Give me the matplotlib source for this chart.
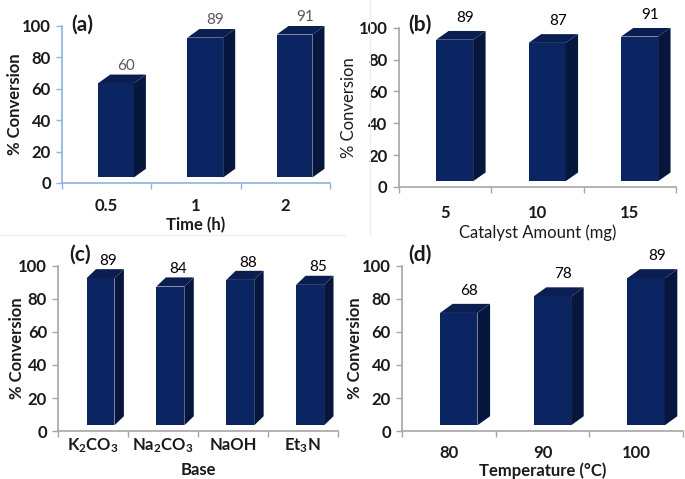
import matplotlib
matplotlib.use("Agg")
import matplotlib.pyplot as plt
from matplotlib.lines import Line2D

plt.rcParams['font.family'] = ['Lato', 'DejaVu Sans']
plt.rcParams['mathtext.fontset'] = 'custom'
plt.rcParams['mathtext.rm'] = 'Lato:bold'
plt.rcParams['mathtext.default'] = 'rm'

# data
time_cats = ["0.5", "1", "2"]
time_vals = [60, 89, 91]
cat_cats = ["5", "10", "15"]
cat_vals = [89, 87, 91]
base_cats = ["K$_2$CO$_3$", "Na$_2$CO$_3$", "NaOH", "Et$_3$N"]
base_vals = [89, 84, 88, 85]
temp_cats = ["80", "90", "100"]
temp_vals = [68, 78, 89]

FRONT = '#0b2462'
TOP = '#0a1e52'
SIDE = '#06163d'
TXT = '#1a1a1a'
FS = 12


def panel(ax, cats, vals, xlabel, spine_col, lab_col, lab_dy, lbl_bold,
          xpad, ylab_x, xlab_y):
    off = 3.5      # front face lifted by depth
    w = 0.40
    dx = 0.135
    dy = 5.5
    for i, v in enumerate(vals):
        x0 = i - 0.095
        x1 = x0 + w
        b = off
        t = v + off
        ax.fill([x0, x1, x1, x0], [b, b, t, t], color=FRONT, lw=0)
        ax.fill([x1, x1 + dx, x1 + dx, x1], [b, b + dy, t + dy, t], color=SIDE, lw=0)
        ax.fill([x0, x1, x1 + dx, x0 + dx], [t, t, t + dy, t + dy], color=TOP, lw=0)
        ax.text(i + 0.22, v + lab_dy, str(v), ha='center', va='center',
                fontsize=11, color=lab_col, clip_on=False)
    n = len(cats)
    ax.set_xlim(-0.5, n - 0.5)
    ax.set_ylim(0, 100)
    ax.set_yticks([0, 20, 40, 60, 80, 100])
    ax.set_xticks(range(n))
    ax.set_xticklabels(cats)
    ax.set_xticks([k - 0.5 for k in range(n + 1)], minor=True)
    for s in ['top', 'right']:
        ax.spines[s].set_visible(False)
    for s in ['left', 'bottom']:
        ax.spines[s].set_color(spine_col)
        ax.spines[s].set_linewidth(1.2)
    ax.tick_params(axis='x', which='major', length=0, pad=xpad,
                   labelsize=FS, labelcolor=TXT)
    ax.tick_params(axis='x', which='minor', length=4, color=spine_col, width=1)
    ax.tick_params(axis='y', length=4, color=spine_col, width=1, pad=4,
                   labelsize=FS, labelcolor=TXT)
    for lb in ax.get_xticklabels() + ax.get_yticklabels():
        lb.set_fontweight('bold')
    wt = 'bold' if lbl_bold else 'normal'
    ax.set_ylabel('% Conversion', fontsize=FS, fontweight=wt, color=TXT)
    ax.set_xlabel(xlabel, fontsize=FS, fontweight=wt, color=TXT)
    ax.yaxis.set_label_coords(ylab_x, 0.5)
    ax.xaxis.set_label_coords(0.5, xlab_y)


fig = plt.figure(figsize=(6.85, 4.79), dpi=100)

ax1 = fig.add_axes([0.0905, 0.618, 0.391, 0.328])
ax2 = fig.add_axes([0.582, 0.610, 0.405, 0.332])
ax3 = fig.add_axes([0.085, 0.100, 0.408, 0.345])
ax4 = fig.add_axes([0.587, 0.100, 0.410, 0.345])

panel(ax1, time_cats, time_vals, 'Time (h)', '#8db3e2', '#595959', 14.5, True, 11, -0.146, -0.215)
panel(ax2, cat_cats, cat_vals, 'Catalyst Amount (mg)', '#a6a6a6', 'black', 17, False, 13, -0.151, -0.235)
panel(ax3, base_cats, base_vals, 'Base', '#a6a6a6', 'black', 14, True, 4, -0.118, -0.188)
panel(ax4, temp_cats, temp_vals, 'Temperature (°C)', '#a6a6a6', 'black', 17, True, 10, -0.138, -0.188)

for lab, x, y in [('(a)', 82, 25), ('(b)', 420, 25), ('(c)', 80, 255), ('(d)', 420, 255)]:
    fig.text(x / 685, 1 - y / 479, lab, ha='center', va='center',
             fontsize=15, fontweight='bold', color=TXT)

# faint frame lines around the top panels
fig.add_artist(Line2D([0, 345 / 685], [1 - 235 / 479] * 2, color='#ececec', lw=0.8))
fig.add_artist(Line2D([370 / 685] * 2, [1 - 235 / 479, 1], color='#ececec', lw=0.8))

fig.savefig('out.png', dpi=100)
